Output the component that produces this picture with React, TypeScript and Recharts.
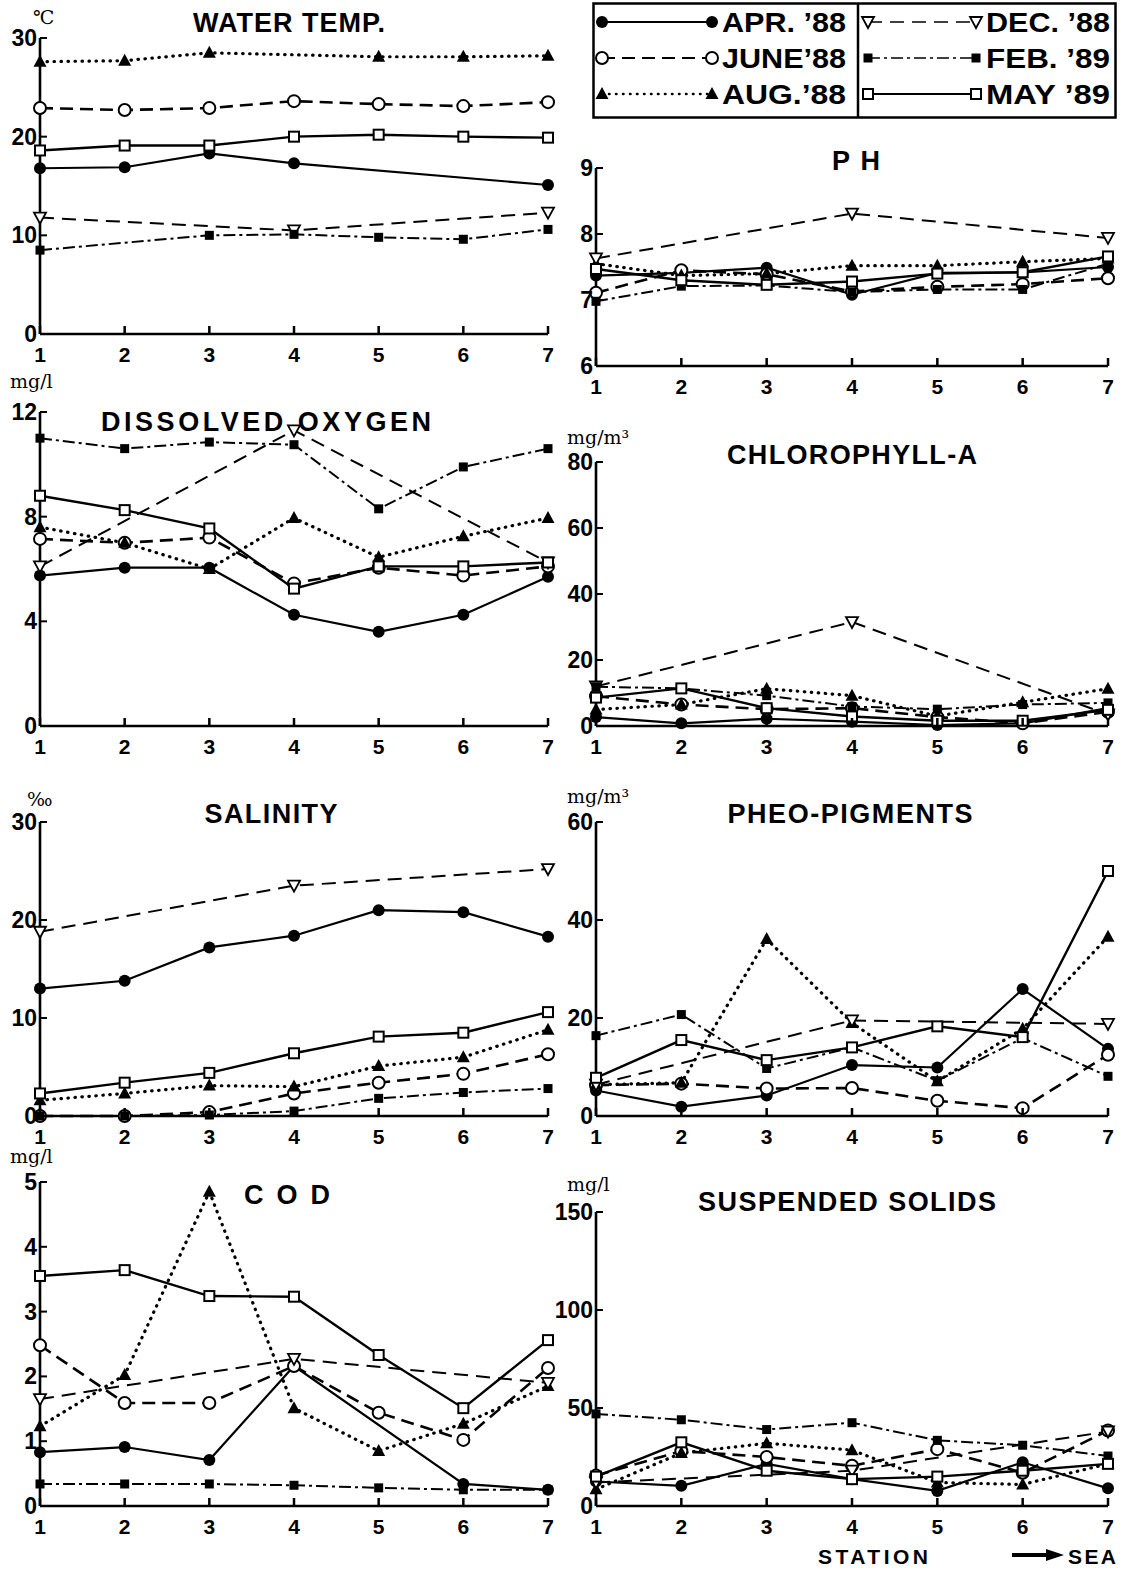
import React from 'react';
import { LineChart, Line, XAxis, YAxis } from 'recharts';

// ---------- DATA ----------
const stations = [1, 2, 3, 4, 5, 6, 7];
const seriesKeys = ['apr', 'jun', 'aug', 'dec', 'feb', 'may'];
const seriesLabels = ['APR. ’88', 'JUNE’88', 'AUG.’88', 'DEC. ’88', 'FEB. ’89', 'MAY ’89'];

type Vals = Record<string, (number | null)[]>;

const waterTemp: Vals = {
  apr: [16.8, 16.9, 18.3, 17.3, null, null, 15.1],
  jun: [22.9, 22.7, 22.9, 23.6, 23.3, 23.1, 23.5],
  aug: [27.6, 27.7, 28.5, null, 28.1, 28.1, 28.2],
  dec: [11.8, null, null, 10.5, null, null, 12.3],
  feb: [8.5, null, 10.0, 10.1, 9.8, 9.6, 10.6],
  may: [18.6, 19.1, 19.1, 20.0, 20.2, 20.0, 19.9],
};
const waterTempTicks = [0, 10, 20, 30];

const ph: Vals = {
  apr: [7.37, 7.41, 7.49, 7.08, 7.41, 7.42, 7.5],
  jun: [7.11, 7.45, 7.39, 7.13, 7.2, 7.24, 7.33],
  aug: [7.55, 7.37, 7.4, 7.52, 7.52, 7.58, 7.63],
  dec: [7.63, null, null, 8.31, null, null, 7.94],
  feb: [6.98, 7.21, 7.22, 7.12, 7.16, 7.16, 7.55],
  may: [7.47, 7.3, 7.23, 7.28, 7.4, 7.42, 7.66],
};
const phTicks = [6, 7, 8, 9];

const dissolvedOxygen: Vals = {
  apr: [5.75, 6.05, 6.05, 4.25, 3.6, 4.25, 5.7],
  jun: [7.15, 7.0, 7.2, 5.45, 6.05, 5.75, 6.1],
  aug: [7.6, 7.0, 6.0, 7.95, 6.45, 7.25, 7.95],
  dec: [6.1, null, null, 11.3, null, null, 6.25],
  feb: [11.0, 10.6, 10.85, 10.75, 8.3, 9.9, 10.6],
  may: [8.8, 8.25, 7.55, 5.25, 6.1, 6.1, 6.25],
};
const doTicks = [0, 4, 8, 12];

const chlorophyll: Vals = {
  apr: [2.7, 0.8, 2.2, 1.3, 0.3, 0.8, 5.4],
  jun: [9, 6.5, 5.1, 5.4, 2.7, 0.8, 4.3],
  aug: [5, 6.5, 11.3, 9.2, 3, 7.2, 11.3],
  dec: [12, null, null, 31.5, null, null, 3.5],
  feb: [11.9, 11.4, 9.2, 5.9, 5.1, 6.5, 7.0],
  may: [8.6, 11.4, 5.4, 2.9, 1.6, 1.6, 4.9],
};
const chlTicks = [0, 20, 40, 60, 80];

const salinity: Vals = {
  apr: [13.0, 13.8, 17.2, 18.4, 21.0, 20.8, 18.3],
  jun: [0, 0, 0.4, 2.3, 3.4, 4.3, 6.3],
  aug: [1.6, 2.3, 3.1, 3.0, 5.1, 6.0, 8.8],
  dec: [18.8, null, null, 23.5, null, null, 25.2],
  feb: [0, 0, 0.1, 0.5, 1.8, 2.4, 2.8],
  may: [2.3, 3.4, 4.4, 6.4, 8.1, 8.5, 10.6],
};
const salTicks = [0, 10, 20, 30];

const pheo: Vals = {
  apr: [5.2, 1.9, 4.2, 10.4, 9.9, 25.9, 13.7],
  jun: [6.3, 6.6, 5.6, 5.7, 3.1, 1.6, 12.5],
  aug: [6.4, 6.8, 36.1, 19.0, 7.1, 17.8, 36.6],
  dec: [6.4, null, null, 19.5, null, null, 18.8],
  feb: [16.4, 20.7, 9.7, 14.0, 7.2, 15.9, 8.1],
  may: [7.8, 15.5, 11.4, 14.0, 18.3, 16.1, 50],
};
const pheoTicks = [0, 20, 40, 60];

const cod: Vals = {
  apr: [0.83, 0.91, 0.71, 2.16, null, 0.34, 0.25],
  jun: [2.48, 1.59, 1.59, 2.16, 1.44, 1.02, 2.13],
  aug: [1.23, 2.02, 4.85, 1.51, 0.85, 1.27, 1.85],
  dec: [1.65, null, null, 2.27, null, null, 1.9],
  feb: [0.34, 0.34, 0.34, 0.32, 0.28, 0.25, 0.25],
  may: [3.55, 3.64, 3.24, 3.23, 2.33, 1.51, 2.56],
};
const codTicks = [0, 1, 2, 3, 4, 5];

const suspendedSolids: Vals = {
  apr: [12.5, 10.3, 21.5, 13.7, 7.7, 22.3, 9],
  jun: [15.5, 28, 25, 20.5, 29, 17, 38.5],
  aug: [8.5, 27, 32, 28.5, 12, 11, 21.5],
  dec: [12, null, null, 18, null, null, 38],
  feb: [47, 44, 39, 42.5, 33.5, 31, 25.5],
  may: [15, 32.5, 18, 13.7, 15, 18, 21.5],
};
const ssTicks = [0, 50, 100, 150];

// ---------- STYLES ----------
const SANS = "'Liberation Sans', Arial, Helvetica, sans-serif";
const SERIF = "'DejaVu Serif', 'Liberation Serif', serif";

const STYLE: Record<string, { dash?: string; width: number; marker: string; cap?: 'round' | 'butt' }> = {
  apr: { width: 2.2, marker: 'fc' },
  jun: { dash: '13 7', width: 2.6, marker: 'oc' },
  aug: { dash: '0.5 6.5', width: 3.2, marker: 'ft', cap: 'round' },
  dec: { dash: '14 8', width: 2, marker: 'ot' },
  feb: { dash: '12 4 3 4', width: 2, marker: 'fs' },
  may: { width: 2.4, marker: 'os' },
};

function Marker({ kind, cx, cy }: { kind: string; cx: number; cy: number }) {
  switch (kind) {
    case 'fc':
      return <circle cx={cx} cy={cy} r={6} fill="#000" />;
    case 'oc':
      return <circle cx={cx} cy={cy} r={6} fill="#fff" stroke="#000" strokeWidth={2} />;
    case 'ft':
      return <path d={`M${cx},${cy - 7} L${cx + 6.5},${cy + 5} L${cx - 6.5},${cy + 5} Z`} fill="#000" />;
    case 'ot':
      return (
        <path
          d={`M${cx - 6},${cy - 5} L${cx + 6},${cy - 5} L${cx},${cy + 6} Z`}
          fill="#fff"
          stroke="#000"
          strokeWidth={1.8}
        />
      );
    case 'fs':
      return <rect x={cx - 4.5} y={cy - 4.5} width={9} height={9} fill="#000" />;
    case 'os':
      return <rect x={cx - 5} y={cy - 5} width={10} height={10} fill="#fff" stroke="#000" strokeWidth={2} />;
    default:
      return null;
  }
}

const makeDot = (kind: string, key: string) => (p: any) => {
  const { cx, cy, index, value } = p;
  if (cx == null || cy == null || value == null || Number.isNaN(cy)) return <g key={`${key}-n-${index}`} />;
  return (
    <g key={`${key}-${index}`}>
      <Marker kind={kind} cx={cx} cy={cy} />
    </g>
  );
};

const XTick = (props: any) => {
  const { x, y, payload } = props;
  return (
    <g>
      <line x1={x} y1={y} x2={x} y2={y - 8} stroke="#000" strokeWidth={2.5} />
      <text x={x} y={y + 28} textAnchor="middle" fontSize={21} fontWeight="bold" fontFamily={SANS} fill="#000">
        {payload.value}
      </text>
    </g>
  );
};

const YTick = (props: any) => {
  const { x, y, payload } = props;
  return (
    <g>
      <line x1={x} y1={y} x2={x + 7} y2={y} stroke="#000" strokeWidth={2} />
      <text x={x - 3} y={y + 8} textAnchor="end" fontSize={23} fontWeight="bold" fontFamily={SANS} fill="#000">
        {payload.value}
      </text>
    </g>
  );
};

const Y_W = 50;
const M_TOP = 12;
const X_H = 40;
const M_RIGHT = 15;

function Panel({
  values,
  ticks,
  plotLeft,
  plotTop,
  plotW,
  plotH,
}: {
  values: Vals;
  ticks: number[];
  plotLeft: number;
  plotTop: number;
  plotW: number;
  plotH: number;
}) {
  const rows = stations.map((s, i) => {
    const r: any = { station: s };
    seriesKeys.forEach((k) => {
      r[k] = values[k][i];
    });
    return r;
  });
  const width = Y_W + plotW + M_RIGHT;
  const height = M_TOP + plotH + X_H;
  return (
    <div style={{ position: 'absolute', left: plotLeft - Y_W, top: plotTop - M_TOP }}>
      <LineChart width={width} height={height} data={rows} margin={{ top: M_TOP, right: M_RIGHT, left: 0, bottom: 0 }}>
        <XAxis
          dataKey="station"
          type="number"
          domain={[1, 7]}
          ticks={stations}
          interval={0}
          height={X_H}
          tickSize={0}
          tickMargin={0}
          tickLine={false}
          axisLine={{ stroke: '#000', strokeWidth: 2.6 }}
          tick={<XTick />}
        />
        <YAxis
          type="number"
          domain={[ticks[0], ticks[ticks.length - 1]]}
          ticks={ticks}
          interval={0}
          width={Y_W}
          tickSize={0}
          tickMargin={0}
          tickLine={false}
          axisLine={{ stroke: '#000', strokeWidth: 2.6 }}
          tick={<YTick />}
        />
        {seriesKeys.map((k) => {
          const st = STYLE[k];
          return (
            <Line
              key={k}
              dataKey={k}
              type="linear"
              stroke="#000"
              strokeWidth={st.width}
              strokeDasharray={st.dash}
              strokeLinecap={st.cap || 'butt'}
              connectNulls
              dot={makeDot(st.marker, k)}
              activeDot={false}
              isAnimationActive={false}
            />
          );
        })}
      </LineChart>
    </div>
  );
}

function Legend() {
  const rowsY = [20, 56, 92];
  const col = [
    { x1: 10, x2: 120, tx: 130, tl: 124 },
    { x1: 276, x2: 384, tx: 394, tl: 124 },
  ];
  return (
    <svg
      width={526}
      height={118}
      style={{ position: 'absolute', left: 592, top: 2, overflow: 'visible' }}
    >
      <rect x={1.5} y={1.5} width={522} height={114} fill="#fff" stroke="#000" strokeWidth={2.5} />
      <line x1={266} y1={1.5} x2={266} y2={115.5} stroke="#000" strokeWidth={2.5} />
      {seriesKeys.map((k, i) => {
        const c = col[Math.floor(i / 3)];
        const y = rowsY[i % 3];
        const st = STYLE[k];
        return (
          <g key={k}>
            <line
              x1={c.x1}
              y1={y}
              x2={c.x2}
              y2={y}
              stroke="#000"
              strokeWidth={st.width * 0.8}
              strokeDasharray={st.dash}
              strokeLinecap={st.cap || 'butt'}
            />
            <Marker kind={st.marker} cx={c.x1} cy={y} />
            <Marker kind={st.marker} cx={c.x2} cy={y} />
            <text
              x={c.tx}
              y={y + 10}
              fontSize={28}
              fontWeight="bold"
              fontFamily={SANS}
              textLength={c.tl}
              lengthAdjust="spacingAndGlyphs"
            >
              {seriesLabels[i]}
            </text>
          </g>
        );
      })}
    </svg>
  );
}

const titles = [
  { t: 'WATER TEMP.', x: 289, y: 32, w: 192 },
  { t: 'P H', x: 856, y: 170, w: 48 },
  { t: 'DISSOLVED OXYGEN', x: 266, y: 431, w: 330 },
  { t: 'CHLOROPHYLL-A', x: 852, y: 464, w: 250 },
  { t: 'SALINITY', x: 271, y: 823, w: 133 },
  { t: 'PHEO-PIGMENTS', x: 850, y: 823, w: 245 },
  { t: 'C O D', x: 287, y: 1204, w: 86 },
  { t: 'SUSPENDED  SOLIDS', x: 847, y: 1211, w: 298 },
];

const units = [
  { t: '℃', x: 33, y: 24 },
  { t: 'mg/l', x: 10, y: 388 },
  { t: 'mg/m³', x: 567, y: 444 },
  { t: '‰', x: 27, y: 806 },
  { t: 'mg/m³', x: 567, y: 803 },
  { t: 'mg/l', x: 10, y: 1163 },
  { t: 'mg/l', x: 567, y: 1191 },
];

function Overlay() {
  return (
    <svg width={1131} height={1570} style={{ position: 'absolute', left: 0, top: 0, pointerEvents: 'none' }}>
      {titles.map((d) => (
        <text
          key={d.t}
          x={d.x - d.w / 2}
          y={d.y}
          fontSize={27}
          fontWeight="bold"
          fontFamily={SANS}
          textLength={d.w}
          lengthAdjust="spacing"
          fill="#000"
        >
          {d.t}
        </text>
      ))}
      {units.map((d, i) => (
        <text key={i} x={d.x} y={d.y} fontSize={19} fontFamily={SERIF} fill="#000">
          {d.t}
        </text>
      ))}
      <text x={818} y={1564} fontSize={21} fontWeight="bold" fontFamily={SANS} textLength={110} lengthAdjust="spacing">
        STATION
      </text>
      <line x1={1012} y1={1555} x2={1050} y2={1555} stroke="#000" strokeWidth={4} />
      <path d="M1046,1549 L1064,1555 L1046,1561 Z" fill="#000" />
      <text x={1068} y={1564} fontSize={21} fontWeight="bold" fontFamily={SANS} textLength={48} lengthAdjust="spacing">
        SEA
      </text>
    </svg>
  );
}

export default function App() {
  return (
    <div style={{ position: 'absolute', left: 0, top: 0, width: 1131, height: 1570, background: '#fff', overflow: 'hidden' }}>
      <Panel values={waterTemp} ticks={waterTempTicks} plotLeft={40} plotTop={38} plotW={508} plotH={296} />
      <Panel values={ph} ticks={phTicks} plotLeft={596} plotTop={168} plotW={512} plotH={198} />
      <Panel values={dissolvedOxygen} ticks={doTicks} plotLeft={40} plotTop={412} plotW={508} plotH={314} />
      <Panel values={chlorophyll} ticks={chlTicks} plotLeft={596} plotTop={462} plotW={512} plotH={264} />
      <Panel values={salinity} ticks={salTicks} plotLeft={40} plotTop={822} plotW={508} plotH={294} />
      <Panel values={pheo} ticks={pheoTicks} plotLeft={596} plotTop={822} plotW={512} plotH={294} />
      <Panel values={cod} ticks={codTicks} plotLeft={40} plotTop={1182} plotW={508} plotH={324} />
      <Panel values={suspendedSolids} ticks={ssTicks} plotLeft={596} plotTop={1212} plotW={512} plotH={294} />
      <Legend />
      <Overlay />
    </div>
  );
}
